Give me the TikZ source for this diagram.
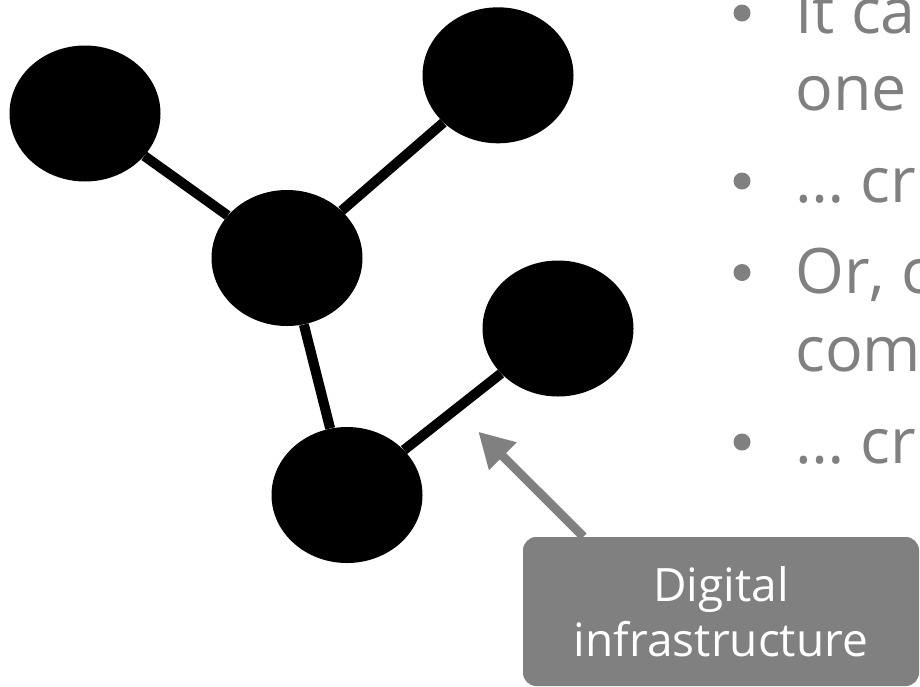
\documentclass[tikz,border=0pt]{standalone}
\usepackage{fontspec}
\setmainfont{Open Sans}
\usetikzlibrary{arrows.meta,shapes.geometric}
\definecolor{slidegray}{HTML}{808080}
\begin{document}
\begin{tikzpicture}[x=0.75pt,y=-0.75pt,>={Triangle[length=26pt,width=27.5pt]},
  every node/.style={inner sep=0pt},
  hub/.style={ellipse,fill=black,minimum width=113.25pt,minimum height=102pt},
  link/.style={line width=7.5pt},
  bulletdot/.style={circle,fill=slidegray,minimum size=12.75pt},
  itemtext/.style={anchor=base west,text=slidegray,font=\fontsize{47}{56}\selectfont},
  calloutbox/.style={fill=slidegray,rounded corners=10pt,minimum width=297pt,minimum height=111.75pt,
    align=center,text=white,font=\fontsize{34.5}{41.25}\selectfont}]
\useasboundingbox (0,0) rectangle (920,686);
\clip (0,0) rectangle (920,686);
% network
\node[hub] (a) at (85,113.5) {};
\node[hub] (b) at (498,75.3) {};
\node[hub] (c) at (287,258) {};
\node[hub] (d) at (558,328.5) {};
\node[hub] (e) at (347,495) {};
\draw[link] (a)--(c);
\draw[link] (c)--(b);
\draw[link] (c)--(e);
\draw[link] (e)--(d);
% bullet list, cut at the right edge
\foreach \y [count=\i] in {13,181,272.5,442}
  \node[bulletdot] (p\i) at (742,\y) {};
\node[itemtext] (t1) at (795,33) {It ca};
\node[itemtext] (t2) at (795,110) {one};
\node[itemtext] (t3) at (795,202) {… cr};
\node[itemtext] (t4) at (795,293.5) {Or, c};
\node[itemtext] (t5) at (795,371) {com};
\node[itemtext] (t6) at (795,463) {… cr};
% label
\node[calloutbox] (box) at (721,611.5) {Digital\\infrastructure};
\coordinate (tip) at (478.3,431.7);
\draw[->,line width=6.75pt,slidegray] ([xshift=45.5pt]box.north west) -- (tip);
\end{tikzpicture}
\end{document}
